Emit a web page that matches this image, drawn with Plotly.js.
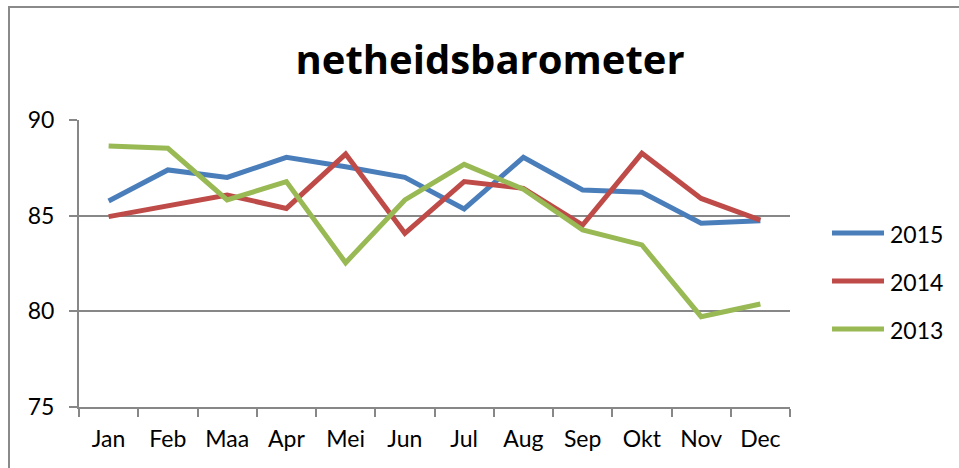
<!DOCTYPE html>
<html>
<head>
<meta charset="utf-8">
<script src="https://cdn.plot.ly/plotly-3.0.1.min.js"></script>
<style>
html,body{margin:0;padding:0;background:#fff;}
#chart{width:959px;height:468px;}
</style>
</head>
<body>
<div id="chart"></div>
<script>
const months = ["Jan","Feb","Maa","Apr","Mei","Jun","Jul","Aug","Sep","Okt","Nov","Dec"];
const y2015 = [85.77, 87.39, 87.0, 88.05, 87.56, 87.0, 85.35, 88.05, 86.34, 86.22, 84.6, 84.74];
const y2014 = [84.95, 85.5, 86.08, 85.38, 88.22, 84.08, 86.78, 86.43, 84.51, 88.26, 85.9, 84.77];
const y2013 = [88.64, 88.52, 85.82, 86.78, 82.54, 85.82, 87.68, 86.38, 84.25, 83.47, 79.72, 80.38];
const seriesNames = ["2015", "2014", "2013"];
const colors = ["#4a7ebb", "#be4b48", "#98b954"];

const data = [y2015, y2014, y2013].map((ys, i) => ({
  type: "scatter",
  mode: "lines",
  x: months,
  y: ys,
  name: seriesNames[i],
  showlegend: false,
  line: {color: colors[i], width: 5}
}));

// pixel -> paper helpers (plot area: x 79..790, y 120..407)
const PL = 79, PW = 711, PB = 407, PH = 287;
const px = v => (v - PL) / PW;
const py = v => (PB - v) / PH;

const font = "Lato, 'Open Sans', sans-serif";
const legendRows = [233, 281, 329];

const shapes = [{type: "rect", xref: "paper", yref: "paper",
  x0: px(9), x1: px(1100), y0: py(700), y1: py(7),
  line: {color: "#8a8a8a", width: 2}, fillcolor: "rgba(0,0,0,0)", layer: "below"}];
const annotations = [];
seriesNames.forEach((n, i) => {
  shapes.push({type: "line", xref: "paper", yref: "paper",
    x0: px(832), x1: px(884), y0: py(legendRows[i]), y1: py(legendRows[i]),
    line: {color: colors[i], width: 5}});
  annotations.push({xref: "paper", yref: "paper", x: px(888), y: py(legendRows[i] + 1),
    xanchor: "left", yanchor: "middle", showarrow: false, text: n,
    font: {family: font, size: 23, color: "#000"}});
});

const layout = {
  width: 959, height: 468,
  margin: {l: 79, r: 169, t: 120, b: 61},
  paper_bgcolor: "#fff", plot_bgcolor: "#fff",
  font: {family: font, size: 23, color: "#000"},
  title: {text: "<b>netheidsbarometer</b>", font: {family: "'Open Sans', Lato, sans-serif", size: 40, color: "#000"},
          x: 0.511, xanchor: "center", y: 0.872, yanchor: "middle"},
  showlegend: false,
  xaxis: {type: "category", range: [-0.5, 11.5], showgrid: false,
          showline: true, linecolor: "#878787", linewidth: 2,
          ticks: "outside", tickson: "boundaries", ticklen: 8, tickcolor: "#878787", tickwidth: 2,
          ticklabelstandoff: 10,
          tickfont: {family: font, size: 23}, fixedrange: true, automargin: false},
  yaxis: {range: [75, 90], dtick: 5, showgrid: true, gridcolor: "#878787", gridwidth: 2,
          showline: true, linecolor: "#878787", linewidth: 2,
          ticks: "outside", ticklen: 8, tickcolor: "#878787", tickwidth: 2,
          ticklabelstandoff: 10,
          tickfont: {family: font, size: 23}, zeroline: false, automargin: false},
  shapes: shapes,
  annotations: annotations
};

Plotly.newPlot("chart", data, layout, {displayModeBar: false, staticPlot: true});
</script>
</body>
</html>
